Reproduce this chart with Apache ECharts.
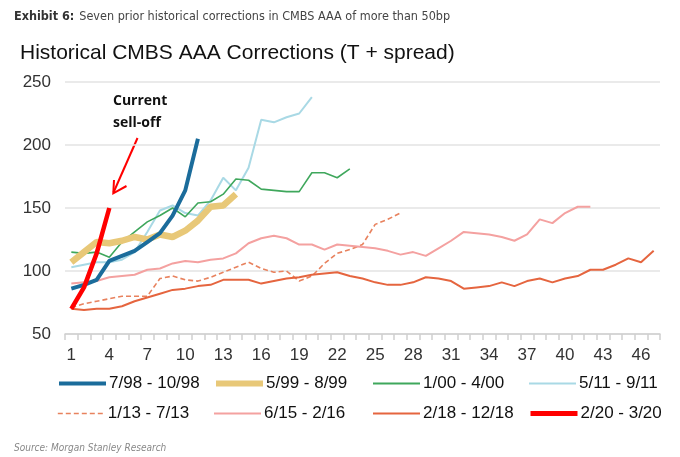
<!DOCTYPE html>
<html>
<head>
<meta charset="utf-8">
<script src="https://cdn.jsdelivr.net/npm/echarts@6/dist/echarts.min.js"></script>
<style>
html,body{margin:0;padding:0;background:#fff;}
#chart{width:680px;height:457px;}
</style>
</head>
<body>
<div id="chart"></div>
<script>
var categories = ['1','2','3','4','5','6','7','8','9','10','11','12','13','14','15','16','17','18','19','20','21','22','23','24','25','26','27','28','29','30','31','32','33','34','35','36','37','38','39','40','41','42','43','44','45','46','47'];
var yTicks = [50, 100, 150, 200, 250];

var s_98 = [86, 89, 93, 108, 112, 116, 123, 130, 144, 164, 205];
var s_99 = [107, 115, 123, 122, 124, 127, 125, 129, 127, 132, 140, 151, 152, 161];
var s_00 = [115, 114, 115, 111, 123, 131, 139, 144, 150, 143, 154, 155, 161, 173, 172, 165, 164, 163, 163, 178, 178, 174, 181];
var s_11 = [103, 105, 107, 107, 109, 115, 131, 148, 152, 146, 144, 156, 174, 164, 182, 220, 218, 222, 225, 238];
var s_13 = [71, 74, 76, 78, 80, 80, 80, 94, 96, 93, 92, 95, 99, 103, 107, 102, 99, 100, 92, 96, 106, 114, 117, 121, 137, 141, 146];
var s_15 = [90, 91, 92, 95, 96, 97, 101, 102, 106, 108, 107, 109, 110, 114, 122, 126, 128, 126, 121, 121, 117, 121, 120, 119, 118, 116, 113, 115, 112, 118, 124, 131, 130, 129, 127, 124, 129, 141, 138, 146, 151, 151];
var s_18 = [70, 69, 70, 70, 72, 76, 79, 82, 85, 86, 88, 89, 93, 93, 93, 90, 92, 94, 95, 97, 98, 99, 96, 94, 91, 89, 89, 91, 95, 94, 92, 86, 87, 88, 91, 88, 92, 94, 91, 94, 96, 101, 101, 105, 110, 107, 116];
var s_20 = [70, 87, 114, 150];

var names = ['7/98 - 10/98', '5/99 - 8/99', '1/00 - 4/00', '5/11 - 9/11', '1/13 - 7/13', '6/15 - 2/16', '2/18 - 12/18', '2/20 - 3/20'];
var legendWidths = [4, 6, 2, 2, 1.6, 2, 2, 5];

var chart = echarts.init(document.getElementById('chart'), null, {renderer: 'canvas'});

function mkLine(name, data, color, width, type, z) {
  return {
    name: name, type: 'line', data: data, symbol: 'none', showSymbol: false,
    lineStyle: {color: color, width: width, type: type || 'solid'},
    itemStyle: {color: color},
    z: z, animation: false, silent: true
  };
}

var legendLeft = [57, 213, 372, 528];
var legends = [];
for (var i = 0; i < names.length; i++) {
  legends.push({
    data: [names[i]],
    left: legendLeft[i % 4],
    top: i < 4 ? 375 : 405,
    itemWidth: 47, itemHeight: 14, itemGap: 0,
    padding: 0,
    itemStyle: {opacity: 0},
    lineStyle: {width: legendWidths[i]},
    textStyle: {fontFamily: 'Liberation Sans, Arial', fontSize: 17, color: '#111', padding: [0, 0, 0, -2]},
    selectedMode: false
  });
}

var option = {
  backgroundColor: '#fff',
  animation: false,
  title: [
    {
      text: '{b|Exhibit 6:} {n|Seven prior historical corrections in CMBS AAA of more than 50bp}',
      left: 9, top: 3,
      textStyle: {
        rich: {
          b: {fontFamily: 'Liberation Sans Narrow, DejaVu Sans Condensed, Arial', fontWeight: 'bold', fontSize: 12.5, color: '#333'},
          n: {fontFamily: 'Liberation Sans Narrow, DejaVu Sans Condensed, Arial', fontWeight: 'normal', fontSize: 12.5, color: '#444'}
        }
      }
    },
    {
      text: 'Historical CMBS AAA Corrections (T + spread)',
      left: 15, top: 38,
      textStyle: {fontFamily: 'Liberation Sans, Arial', fontWeight: 'normal', fontSize: 21, color: '#111'}
    },
    {
      text: 'Source: Morgan Stanley Research',
      left: 9, top: 438,
      textStyle: {fontFamily: 'Liberation Sans Narrow, DejaVu Sans Condensed, Arial', fontStyle: 'italic', fontWeight: 'normal', fontSize: 10, color: '#888'}
    }
  ],
  legend: legends,
  grid: {left: 65, right: 20, top: 82, bottom: 123, containLabel: false},
  xAxis: {
    type: 'category', data: categories, boundaryGap: true,
    axisLine: {show: true, lineStyle: {color: '#d0d0d0', width: 1.5}},
    axisTick: {show: true, interval: 0, length: 6, lineStyle: {color: '#d0d0d0', width: 1.5}},
    axisLabel: {interval: 2, margin: 13, fontFamily: 'Liberation Sans, Arial', fontSize: 17, color: '#333'},
    splitLine: {show: false}
  },
  yAxis: {
    type: 'value', min: yTicks[0], max: yTicks[yTicks.length - 1], interval: 50,
    axisLine: {show: false}, axisTick: {show: false},
    axisLabel: {margin: 14, fontFamily: 'Liberation Sans, Arial', fontSize: 17, color: '#333'},
    splitLine: {show: true, lineStyle: {color: '#e3e3e3', width: 1.5}}
  },
  series: [
    mkLine(names[4], s_13, '#e8825e', 1.6, [5, 3], 2),
    mkLine(names[5], s_15, '#f4a1a0', 2, 'solid', 3),
    mkLine(names[6], s_18, '#e5653f', 2, 'solid', 4),
    mkLine(names[3], s_11, '#a9d9e5', 2, 'solid', 5),
    mkLine(names[2], s_00, '#3fa75c', 1.6, 'solid', 6),
    mkLine(names[1], s_99, '#e8c878', 6.5, 'solid', 7),
    mkLine(names[0], s_98, '#1b6c9b', 4, 'solid', 8),
    mkLine(names[7], s_20, '#ff0000', 4.5, 'solid', 9)
  ],
  graphic: [
    {type: 'text', left: 113, top: 94, style: {text: 'Current', fontFamily: 'Open Sans, Liberation Sans', fontWeight: 'bold', fontSize: 14, fill: '#111'}},
    {type: 'text', left: 113, top: 116, style: {text: 'sell-off', fontFamily: 'Open Sans, Liberation Sans', fontWeight: 'bold', fontSize: 14, fill: '#111'}},
    {type: 'line', shape: {x1: 137.5, y1: 138, x2: 113.5, y2: 192.5}, style: {stroke: '#ff0000', lineWidth: 2}},
    {type: 'polyline', shape: {points: [[114, 180], [113.3, 193.3], [126.5, 186]]}, style: {stroke: '#ff0000', lineWidth: 2, fill: null}}
  ]
};
chart.setOption(option);
</script>
</body>
</html>
